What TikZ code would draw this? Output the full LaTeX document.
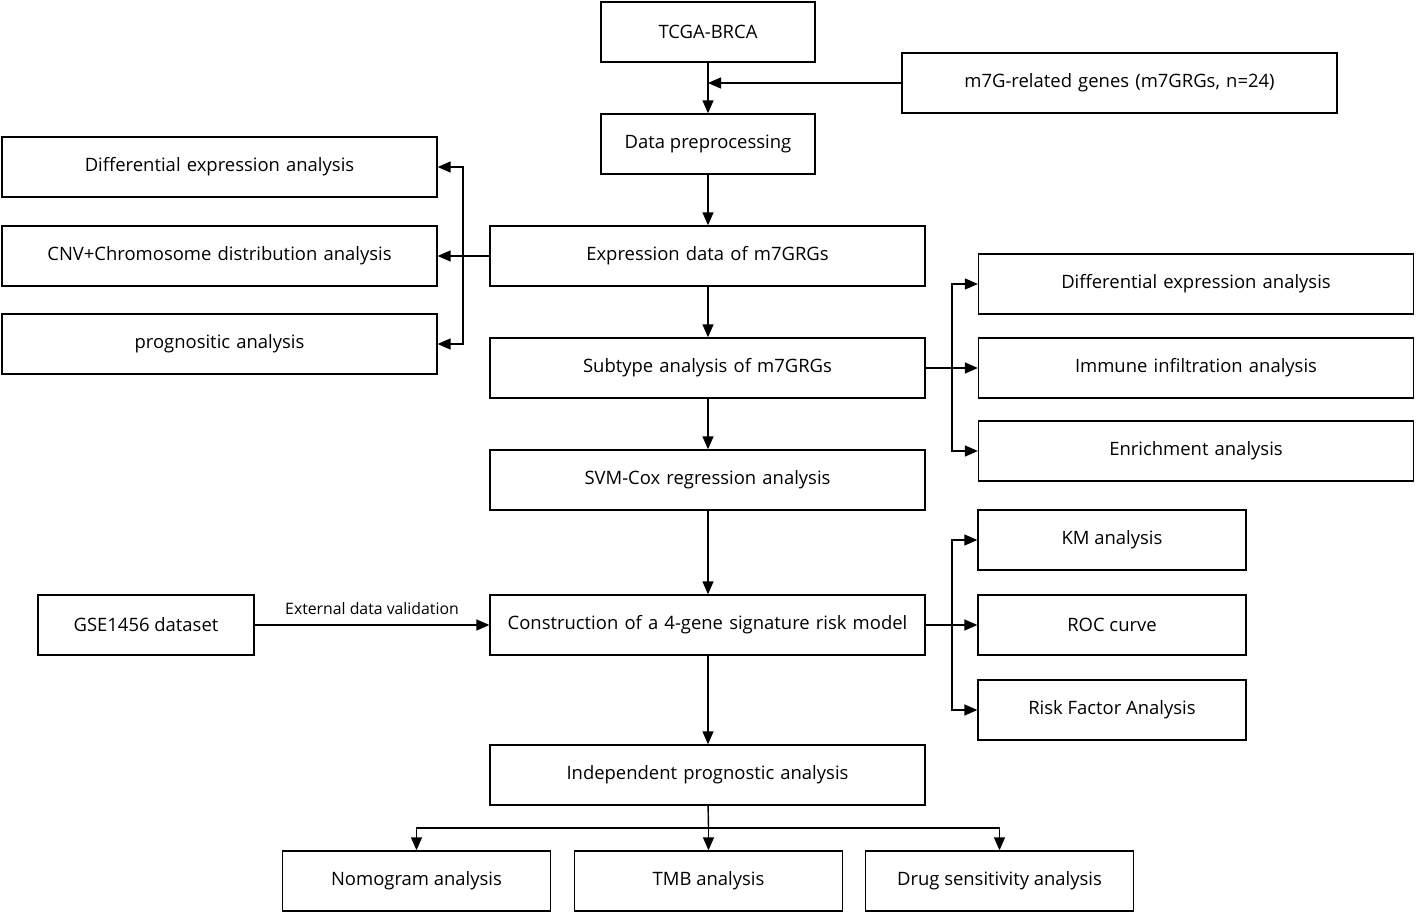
\documentclass[tikz,border=0pt]{standalone}
\usepackage{fontspec}
\setmainfont{Open Sans}
\usetikzlibrary{arrows.meta,positioning,calc}

\begin{document}
\begin{tikzpicture}[x=0.02cm,y=-0.02cm,
        box/.style={draw, thick, minimum height=1.2cm, inner sep=2pt, align=center, font=\fontsize{10.5}{11.5}\selectfont},
        wide/.style={box, minimum width=8.7cm, text width=8.3cm},
        mid/.style={box, minimum width=5.36cm},
        arr/.style={thick, -{Triangle[length=2.6mm,width=2.2mm]}},
        ln/.style={thick}]

        % Page frame
        \useasboundingbox (0,0) rectangle (1416,915);

        % Main column
        \node[box, minimum width=4.28cm] (tcga) at (708,32) {TCGA-BRCA};
        \node[wide] (genes) at (1119.5,83) {m7G-related genes (m7GRGs, n=24)};
        \node[box, minimum width=4.28cm] (prep) at (708,144) {Data preprocessing};
        \node[wide] (expr) at (707.5,256) {Expression data of m7GRGs};
        \node[wide] (subt) at (707.5,368) {Subtype analysis of m7GRGs};
        \node[wide] (svm) at (707.5,480) {SVM-Cox regression analysis};
        \node[wide] (model) at (707.5,625) {Construction of a 4-gene signature risk model};
        \node[wide] (indep) at (707.5,775) {Independent prognostic analysis};

        % Left branch
        \node[wide] (ldiff) at (219.5,167) {Differential expression analysis};
        \node[wide] (lcnv) at (219.5,256) {CNV+Chromosome distribution analysis};
        \node[wide] (lprog) at (219.5,344) {prognositic analysis};
        \node[box, minimum width=4.32cm] (gse) at (146,625) {GSE1456 dataset};

        % Right branches
        \node[wide] (rdiff) at (1196,284) {Differential expression analysis};
        \node[wide] (rimm) at (1196,368) {Immune infiltration analysis};
        \node[wide] (renr) at (1196,451) {Enrichment analysis};
        \node[mid] (km) at (1112,540) {KM analysis};
        \node[mid] (roc) at (1112,625) {ROC curve};
        \node[mid] (risk) at (1112,710) {Risk Factor Analysis};

        % Bottom row
        \node[mid] (nomo) at (416.5,881) {Nomogram analysis};
        \node[mid] (tmb) at (708.5,881) {TMB analysis};
        \node[mid] (drug) at (999.5,881) {Drug sensitivity analysis};

        % Main arrows
        \draw[arr] (tcga) -- (prep);
        \draw[arr] (genes) -- (708,83);
        \draw[arr] (prep) -- (prep |- expr.north);
        \draw[arr] (prep |- expr.south) -- (prep |- subt.north);
        \draw[arr] (prep |- subt.south) -- (prep |- svm.north);
        \draw[arr] (prep |- svm.south) -- (prep |- model.north);
        \draw[arr] (prep |- model.south) -- (prep |- indep.north);
        \draw[arr] (gse) -- node[above=2pt, font=\fontsize{9}{10}\selectfont] {External data validation} (model);

        % Left fan
        \coordinate (lj) at (463,256);
        \draw[ln] (expr.west) -- (lj);
        \draw[arr] (lj) |- (ldiff);
        \draw[arr] (lj) -- (lcnv);
        \draw[arr] (lj) |- (lprog);

        % Right fans
        \coordinate (rj) at (952,368);
        \draw[ln] (subt.east) -- (rj);
        \draw[arr] (rj) |- (rdiff);
        \draw[arr] (rj) -- (rimm);
        \draw[arr] (rj) |- (renr);
        \coordinate (mj) at (952,625);
        \draw[ln] (model.east) -- (mj);
        \draw[arr] (mj) |- (km);
        \draw[arr] (mj) -- (roc);
        \draw[arr] (mj) |- (risk);

        % Bottom fan
        \coordinate (bj) at (708.5,828);
        \draw[ln] (indep) -- (bj);
        \draw[arr] (bj) -| (nomo);
        \draw[arr] (bj) -- (tmb);
        \draw[arr] (bj) -| (drug);
\end{tikzpicture}
\end{document}
